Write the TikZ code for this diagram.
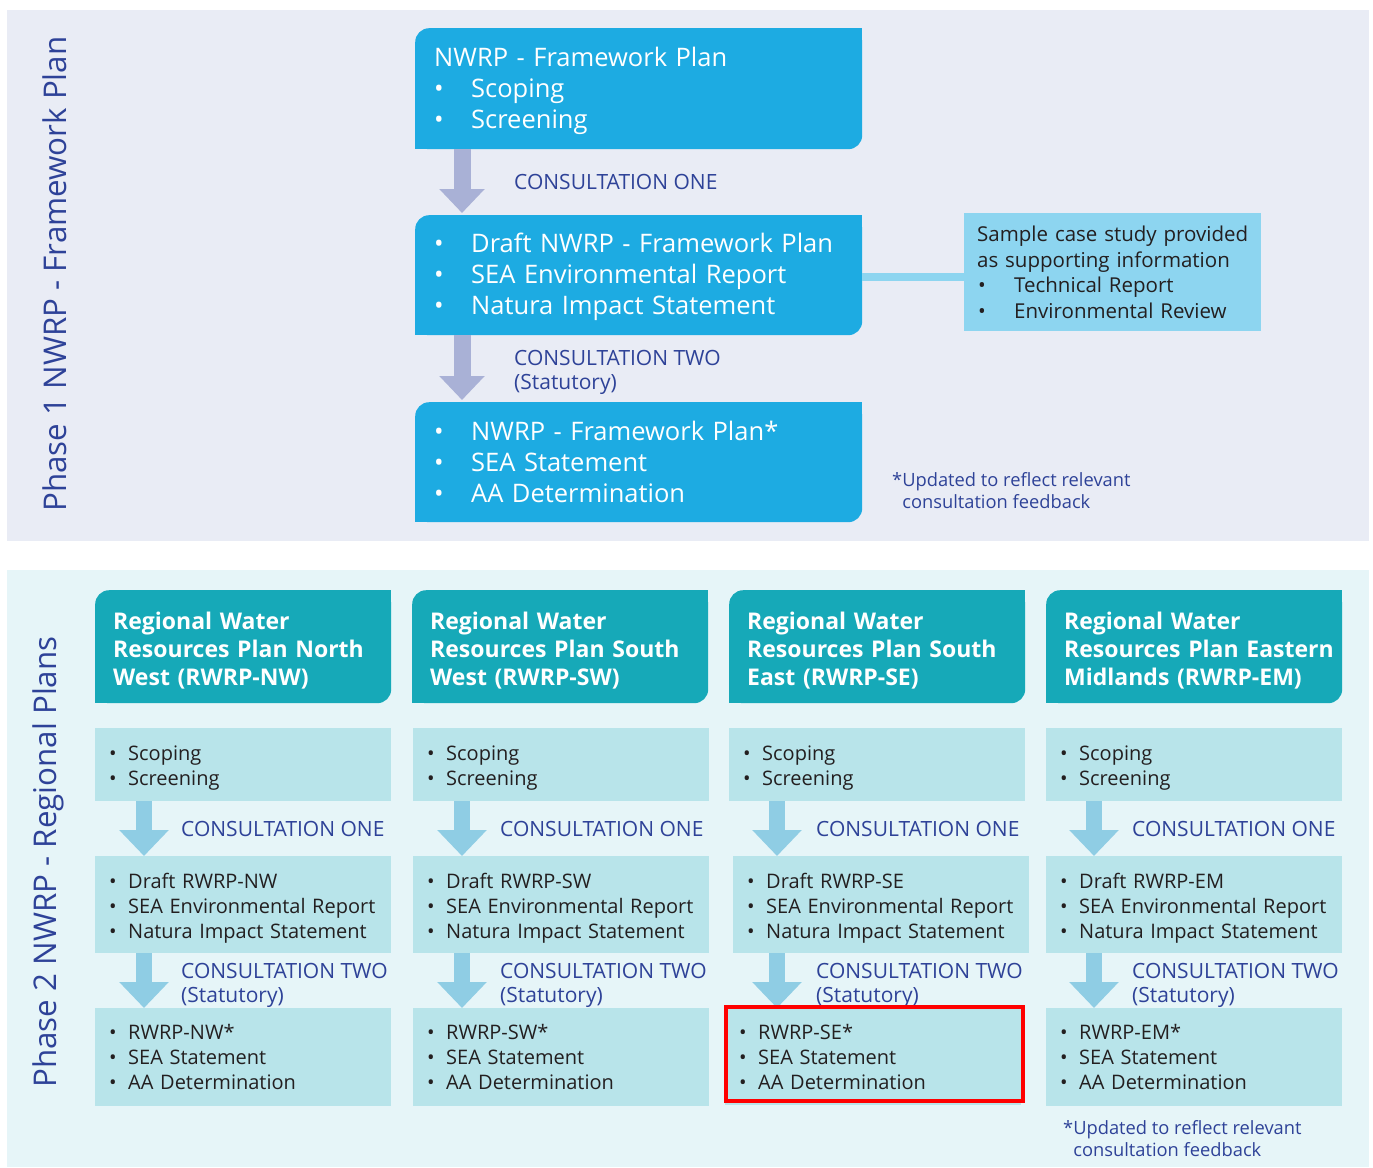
\documentclass[tikz,border=0pt]{standalone}
\usepackage{fontspec}
\setmainfont{Open Sans}
\usepackage{tikz}
\usetikzlibrary{arrows.meta}

\definecolor{bgphaseone}{RGB}{233,236,245}
\definecolor{bgphasetwo}{RGB}{230,245,248}
\definecolor{planblue}{RGB}{29,171,226}
\definecolor{sideblue}{RGB}{141,213,240}
\definecolor{lavender}{RGB}{169,177,214}
\definecolor{labelblue}{RGB}{46,66,152}
\definecolor{regionteal}{RGB}{22,169,184}
\definecolor{regionlight}{RGB}{184,228,234}
\definecolor{arrowlight}{RGB}{143,205,228}
\definecolor{darktext}{RGB}{35,31,32}

\newcommand{\bigitem}[1]{\mbox{\makebox[37pt][l]{\textbullet}#1}}
\newcommand{\sideitem}[1]{\mbox{\makebox[37pt][l]{\hspace{1pt}\textbullet}#1}}
\newcommand{\smallitem}[1]{\mbox{\makebox[19pt][l]{\textbullet}#1}}
\newcommand{\padtop}[2]{\raisebox{0pt}[\dimexpr\height+#1\relax]{#2}}
\newcommand{\sqcorners}[2]{\fill[#2] (#1.north east) rectangle ++(-14,14); \fill[#2] (#1.south west) rectangle ++(14,-14);}

\begin{document}
\begin{tikzpicture}[x=1pt,y=-1pt,
  topbox/.style={anchor=north west, fill=planblue, text=white, rounded corners=14pt,
    inner xsep=19pt, inner ysep=0pt, text width=409pt, align=left,
    font=\fontsize{25.5}{31}\selectfont},
  sidebox/.style={anchor=north west, fill=sideblue, text=darktext,
    inner xsep=13pt, inner ysep=0pt, text width=271pt, minimum height=118pt, align=left,
    font=\fontsize{20.5}{25.7}\selectfont},
  headbox/.style={anchor=north west, fill=regionteal, text=white, rounded corners=14pt,
    inner xsep=18pt, inner ysep=0pt, text width=260pt, minimum height=113pt, align=left,
    font=\fontsize{23}{28}\selectfont\bfseries},
  rowbox/.style={anchor=north west, fill=regionlight, text=darktext,
    inner xsep=14pt, inner ysep=0pt, text width=268pt, align=left,
    font=\fontsize{20}{25}\selectfont},
  conslabel/.style={anchor=west, text=labelblue, inner sep=0pt, align=left,
    font=\fontsize{21}{24}\selectfont},
  notelabel/.style={anchor=west, text=labelblue, inner sep=0pt, align=left,
    font=\fontsize{18.3}{22}\selectfont},
  phaselabel/.style={rotate=90, text=labelblue, inner sep=0pt,
    font=\fontsize{31.3}{36}\selectfont},
  arrowone/.style={draw=lavender, line width=17pt, -{Triangle[width=44pt,length=24pt]}},
  arrowtwo/.style={draw=arrowlight, line width=16pt, -{Triangle[width=48pt,length=26pt]}}
]
\useasboundingbox (0,0) rectangle (1373,1167);

%Shape: Rectangle backgrounds
\fill[bgphaseone] (7,10) rectangle (1369,541);
\fill[bgphasetwo] (7,570) rectangle (1369,1167);

% Text Node
\node[phaselabel] (phaseone) at (55,274) {Phase 1 NWRP - Framework Plan};
\node[phaselabel] (phasetwo) at (48,862) {Phase 2 NWRP - Regional Plans};

%Shape: Phase 1 boxes
\node[topbox, minimum height=121pt] (fwplan) at (415,28) {\padtop{4pt}{NWRP - Framework Plan}\\\bigitem{Scoping}\\\bigitem{Screening}};
\node[topbox, minimum height=120pt] (fwdraft) at (415,215) {\padtop{4pt}{\bigitem{Draft NWRP - Framework Plan}}\\\bigitem{SEA Environmental Report}\\\bigitem{Natura Impact Statement}};
\node[topbox, minimum height=120pt] (fwfinal) at (415,402) {\bigitem{NWRP - Framework Plan*}\\\bigitem{SEA Statement}\\\bigitem{AA Determination}};
\sqcorners{fwplan}{planblue}
\sqcorners{fwdraft}{planblue}
\sqcorners{fwfinal}{planblue}

\node[sidebox] (casestudy) at (964,213) {Sample case study provided\\as supporting information\\\sideitem{Technical Report}\\\sideitem{Environmental Review}};

%Straight Lines
\draw[sideblue, line width=8pt] ([yshift=-2pt]fwdraft.east) -- ([yshift=-2pt]fwdraft.east -| casestudy.west);
\draw[arrowone] ([xshift=47pt]fwplan.south west) -- ([xshift=47pt,yshift=2pt]fwdraft.north west);
\draw[arrowone] ([xshift=47pt]fwdraft.south west) -- ([xshift=47pt,yshift=2pt]fwfinal.north west);

% Text Node
\node[conslabel] (fwconsone) at (514,182) {CONSULTATION ONE};
\node[conslabel] (fwconstwo) at (514,372) {CONSULTATION TWO\\(Statutory)};
\node[notelabel] (fwnote) at (892,491) {*Updated to reflect relevant\\\phantom{*}consultation feedback};

%Shape: Regional plan headers
\node[headbox] (nwhead) at (95,590) {\padtop{8pt}{Regional Water}\\\mbox{Resources Plan North}\\West (RWRP-NW)};
\node[headbox] (swhead) at (412,590) {\padtop{8pt}{Regional Water}\\\mbox{Resources Plan South}\\West (RWRP-SW)};
\node[headbox] (sehead) at (729,590) {\padtop{8pt}{Regional Water}\\\mbox{Resources Plan South}\\East (RWRP-SE)};
\node[headbox] (emhead) at (1046,590) {\padtop{8pt}{Regional Water}\\\mbox{Resources Plan Eastern}\\\mbox{Midlands (RWRP-EM)}};
\sqcorners{nwhead}{regionteal}
\sqcorners{swhead}{regionteal}
\sqcorners{sehead}{regionteal}
\sqcorners{emhead}{regionteal}

%Shape: North West column
\node[rowbox, minimum height=73pt] (nwscope) at (95,728) {\padtop{6pt}{\smallitem{Scoping}}\\\smallitem{Screening}};
\node[rowbox, minimum height=97pt] (nwdraft) at (95,856) {\padtop{7pt}{\smallitem{Draft RWRP-NW}}\\\smallitem{SEA Environmental Report}\\\smallitem{Natura Impact Statement}};
\node[rowbox, minimum height=98pt] (nwfinal) at (95,1008) {\smallitem{RWRP-NW*}\\\smallitem{SEA Statement}\\\smallitem{AA Determination}};
\draw[arrowtwo] ([xshift=49pt]nwscope.south west) -- ([xshift=49pt]nwdraft.north west);
\draw[arrowtwo] ([xshift=49pt]nwdraft.south west) -- ([xshift=49pt]nwfinal.north west);
\node[conslabel] (nwconsone) at (181,829) {CONSULTATION ONE};
\node[conslabel] (nwconstwo) at (181,985) {CONSULTATION TWO\\(Statutory)};

%Shape: South West column
\node[rowbox, minimum height=73pt] (swscope) at (413,728) {\padtop{6pt}{\smallitem{Scoping}}\\\smallitem{Screening}};
\node[rowbox, minimum height=97pt] (swdraft) at (413,856) {\padtop{7pt}{\smallitem{Draft RWRP-SW}}\\\smallitem{SEA Environmental Report}\\\smallitem{Natura Impact Statement}};
\node[rowbox, minimum height=98pt] (swfinal) at (413,1008) {\smallitem{RWRP-SW*}\\\smallitem{SEA Statement}\\\smallitem{AA Determination}};
\draw[arrowtwo] ([xshift=49pt]swscope.south west) -- ([xshift=49pt]swdraft.north west);
\draw[arrowtwo] ([xshift=49pt]swdraft.south west) -- ([xshift=49pt]swfinal.north west);
\node[conslabel] (swconsone) at (500,829) {CONSULTATION ONE};
\node[conslabel] (swconstwo) at (500,985) {CONSULTATION TWO\\(Statutory)};

%Shape: South East column
\node[rowbox, minimum height=73pt] (sescope) at (729,728) {\padtop{6pt}{\smallitem{Scoping}}\\\smallitem{Screening}};
\node[rowbox, minimum height=97pt] (sedraft) at (733,856) {\padtop{7pt}{\smallitem{Draft RWRP-SE}}\\\smallitem{SEA Environmental Report}\\\smallitem{Natura Impact Statement}};
\node[rowbox, minimum height=97pt] (sefinal) at (725,1008) {\smallitem{RWRP-SE*}\\\smallitem{SEA Statement}\\\smallitem{AA Determination}};
\draw[arrowtwo] ([xshift=48pt]sescope.south west) -- ([xshift=48pt]sescope.south west |- sedraft.north);
\draw[arrowtwo] ([xshift=44pt]sedraft.south west) -- ([xshift=52pt]sefinal.north west);
\node[conslabel] (seconsone) at (816,829) {CONSULTATION ONE};
\node[conslabel] (seconstwo) at (816,985) {CONSULTATION TWO\\(Statutory)};
\node[draw=red, line width=3.5pt, anchor=north west, minimum width=297pt, minimum height=94pt, inner sep=0pt] (sehighlight) at (724,1005) {};

%Shape: Eastern Midlands column
\node[rowbox, minimum height=73pt] (emscope) at (1046,728) {\padtop{6pt}{\smallitem{Scoping}}\\\smallitem{Screening}};
\node[rowbox, minimum height=97pt] (emdraft) at (1046,856) {\padtop{7pt}{\smallitem{Draft RWRP-EM}}\\\smallitem{SEA Environmental Report}\\\smallitem{Natura Impact Statement}};
\node[rowbox, minimum height=98pt] (emfinal) at (1046,1008) {\smallitem{RWRP-EM*}\\\smallitem{SEA Statement}\\\smallitem{AA Determination}};
\draw[arrowtwo] ([xshift=48pt]emscope.south west) -- ([xshift=48pt]emdraft.north west);
\draw[arrowtwo] ([xshift=48pt]emdraft.south west) -- ([xshift=48pt]emfinal.north west);
\node[conslabel] (emconsone) at (1132,829) {CONSULTATION ONE};
\node[conslabel] (emconstwo) at (1132,985) {CONSULTATION TWO\\(Statutory)};

% Text Node
\node[notelabel] (emnote) at (1063,1139) {*Updated to reflect relevant\\\phantom{*}consultation feedback};

\end{tikzpicture}
\end{document}
